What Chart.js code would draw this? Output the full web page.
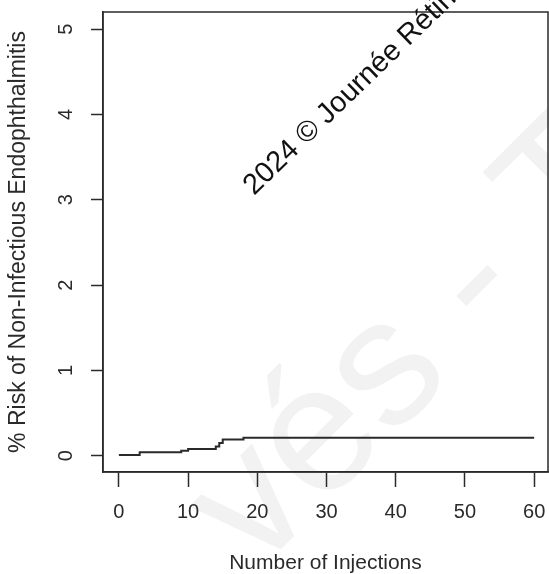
<html>
	<head>
		<title>% Risk of Non-Infectious Endophthalmitis</title>
		<meta charset="utf-8" />
		<script src="https://cdn.jsdelivr.net/npm/chart.js@4/dist/chart.umd.min.js"></script>
		<style>
			body { margin: 0; background: #fff; }
			#wrap { width: 549px; height: 574px; }
		</style>
		<script>
			// courbe cumulative (paliers)
			const injections = [0, 3, 9, 10, 14, 14.5, 15, 18, 60];
			const riskPct = [0.01, 0.04, 0.06, 0.08, 0.11, 0.15, 0.19, 0.21, 0.21];

			const xTicks = [0, 10, 20, 30, 40, 50, 60];
			const yTicks = [0, 1, 2, 3, 4, 5];

			const xTitle = 'Number of Injections';
			const yTitle = '% Risk of Non-Infectious Endophthalmitis';

			const marque = '2024 © Journée Rétine';
			const marqueFond = 'vés - T';

			const ink = '#2a2a2a';
			const fonte = '"Liberation Sans", Arial, sans-serif';
		</script>
	</head>
	<body>
		<div id="wrap">
			<canvas id="gmChart" width="549" height="574"></canvas>
		</div>
		<script>
			const pontos = injections.map((v, i) => ({ x: v, y: riskPct[i] }));

			function semMargem(s) {
				s.paddingLeft = 0;
				s.paddingRight = 0;
				s.paddingTop = 0;
				s.paddingBottom = 0;
			}

			// cadre + filigranes
			const cadre = {
				id: 'cadre',
				beforeDraw(chart) {
					const ctx = chart.ctx;
					ctx.save();
					ctx.fillStyle = '#f2f2f2';
					ctx.font = '180px ' + fonte;
					ctx.translate(256, 574);
					ctx.rotate(-Math.PI / 4);
					ctx.textBaseline = 'alphabetic';
					ctx.fillText(marqueFond, 0, 0);
					ctx.restore();
				},
				afterDraw(chart) {
					const ctx = chart.ctx;
					const a = chart.chartArea;
					ctx.save();
					ctx.strokeStyle = ink;
					ctx.lineWidth = 1.5;
					ctx.strokeRect(a.left, a.top, a.right - a.left, a.bottom - a.top);
					ctx.fillStyle = '#111';
					ctx.font = '29px ' + fonte;
					ctx.translate(254, 196);
					ctx.rotate(-44 * Math.PI / 180);
					ctx.fillText(marque, 0, 0);
					ctx.restore();
				}
			};

			const config = {
				type: 'line',
				data: {
					datasets: [{
						data: pontos,
						stepped: true,
						borderColor: ink,
						borderWidth: 2,
						pointRadius: 0,
						fill: false
					}]
				},
				options: {
					responsive: false,
					animation: false,
					events: [],
					layout: { padding: { top: 12, right: 1, left: 0, bottom: 0 } },
					plugins: { legend: { display: false }, tooltip: { enabled: false } },
					scales: {
						x: {
							type: 'linear',
							min: -2.3,
							max: 62,
							afterBuildTicks: s => { s.ticks = xTicks.map(v => ({ value: v })); },
							afterFit: s => { s.height = 102; semMargem(s); },
							grid: { drawOnChartArea: false, drawTicks: true, tickLength: 15, tickWidth: 1.5, tickColor: ink },
							border: { display: true, color: ink, width: 1.5 },
							ticks: { color: ink, font: { family: fonte, size: 20 }, padding: 13, maxRotation: 0, autoSkip: false },
							title: { display: true, text: xTitle, color: ink, font: { family: fonte, size: 21 }, padding: { top: 0, bottom: -2 } }
						},
						y: {
							type: 'linear',
							min: -0.19,
							max: 5.2,
							afterBuildTicks: s => { s.ticks = yTicks.map(v => ({ value: v })); },
							afterFit: s => { s.width = 103; semMargem(s); },
							grid: { drawOnChartArea: false, drawTicks: true, tickLength: 12, tickWidth: 1.5, tickColor: ink },
							border: { display: true, color: ink, width: 1.5 },
							ticks: { color: ink, font: { family: fonte, size: 20 }, padding: 19, minRotation: 90, maxRotation: 90, crossAlign: 'center', autoSkip: false },
							title: { display: true, text: yTitle, color: ink, font: { family: fonte, size: 23 }, padding: { top: 5, bottom: 0 } }
						}
					}
				},
				plugins: [cadre]
			};

			var myChart = new Chart(document.getElementById('gmChart'), config);
		</script>
	</body>
</html>
